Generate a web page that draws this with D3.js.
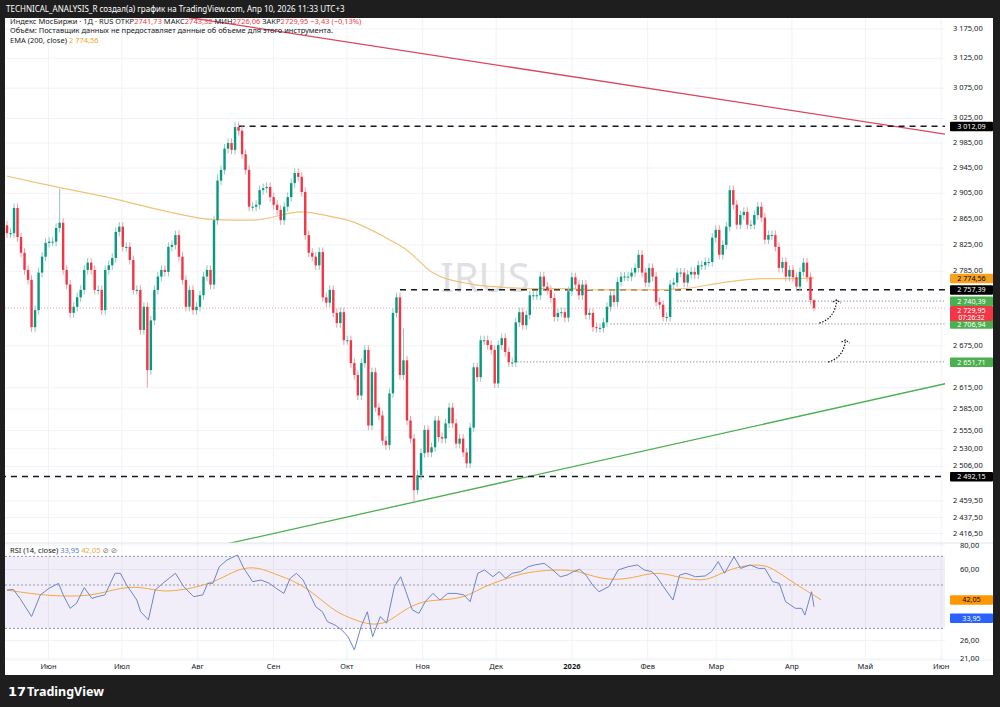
<!DOCTYPE html>
<html><head><meta charset="utf-8">
<script src="https://cdn.jsdelivr.net/npm/d3@7"></script>
<style>body{margin:0;background:#1e1e1e}svg{display:block;font-family:"Noto Sans","DejaVu Sans",sans-serif}</style>
</head><body><svg id="c" width="1000" height="707"></svg>
<script>
// ---------- DATA ----------
const closes = [
2843,2843,2882,2837,2813,2787,2772,2702,2727,2783,
2807,2828,2830,2830,2851,2859,2787,2765,2723,2732,
2746,2757,2787,2798,2787,2757,2757,2727,2787,2794,
2805,2845,2853,2822,2822,2802,2757,2757,2698,2732,
2640,2712,2757,2777,2787,2784,2822,2825,2840,2807,
2772,2732,2757,2727,2732,2749,2777,2787,2765,2863,
2925,2942,2976,2985,2974,3011,3005,2967,2942,2884,
2884,2887,2910,2913,2915,2899,2887,2879,2863,2884,
2899,2921,2937,2931,2907,2840,2813,2807,2794,2814,
2746,2738,2757,2723,2708,2724,2683,2683,2650,2633,
2604,2650,2669,2562,2637,2587,2576,2541,2535,2607,
2723,2746,2633,2654,2569,2544,2474,2494,2524,2556,
2525,2532,2569,2546,2544,2565,2587,2565,2537,2544,
2525,2510,2559,2644,2630,2683,2683,2676,2669,2621,
2676,2686,2666,2651,2651,2709,2724,2705,2720,2749,
2749,2749,2777,2762,2757,2745,2717,2723,2724,2716,
2755,2776,2765,2749,2765,2720,2723,2702,2701,2701,
2709,2732,2749,2739,2769,2777,2777,2777,2783,2790,
2810,2783,2768,2790,2777,2739,2735,2717,2717,2765,
2768,2783,2783,2768,2780,2784,2780,2794,2794,2799,
2799,2836,2848,2810,2825,2853,2910,2887,2856,2871,
2876,2856,2856,2871,2884,2867,2833,2840,2840,2822,
2790,2799,2777,2787,2776,2762,2784,2798,2776,2742,
2729.95];
const firstOpen = 2855;
const lastOHLC = {o:2741.73,h:2743.32,l:2726.0,c:2729.95};
const highOverrides = {15:2912, 65:3012.09, 113:2700, 60:2935};
const lowOverrides = {116:2458, 40:2615, 140:2640};

const emaIdx = [0,9,30,46,59,70,84,92,97,109,114,121,132,144,150,158,170,181,193,204,216,224,230];
const emaVal = [2932,2921,2897,2876,2864,2863,2876,2869,2863,2833,2817,2784,2766,2760,2759,2759,2757,2757,2759,2768,2774,2774,2774.56];

const rsiIdx = [0,1.8,3.7,7,9.5,12,14.7,16,18,19.8,22,24.2,25.7,27.9,30.8,32.3,34.1,37,38.1,40.3,42.2,44.4,46.2,48,50.4,53.2,55.8,57.2,58.7,60.5,62.7,65.7,67.5,70,72.4,74.8,76.7,78.9,80.7,82.5,84.4,86.2,88,89.9,91.3,93.5,95.4,97.2,99,100.9,102.7,104.2,106.4,108.2,110.4,112.2,113.7,115.5,117.4,119.2,121.4,123.4,125.6,128,130.2,132,134.2,136.1,138.5,140.3,142.1,144,146.4,148.6,150.4,153.1,155,157.7,159.6,161.4,163.2,165,166.9,168.7,171.5,174.2,177,179.7,181.6,183.8,185.2,187.1,189.8,191.7,193.5,196.2,199,200.8,202.7,204.5,207.2,209.1,211.8,214.2,216,218.2,220.1,221.9,224.7,226.5,227.4,229.3,230];
const rsiVal = [47.1,47.5,42.7,34.5,44.5,48.1,51.0,44.5,38.0,40.3,48.5,42.7,43.6,44.5,57.4,57.4,50.0,41.9,36.5,33.2,47.1,51.0,54.1,57.4,49.0,43.6,44.5,51.0,51.0,62.0,67.1,71.2,60.8,52.0,53.0,51.0,48.1,45.3,54.1,57.4,53.0,45.3,38.7,36.5,32.5,31.2,29.5,27.2,23.3,30.6,36.5,27.2,34.5,31.9,49.0,55.1,46.2,37.3,35.8,41.1,45.3,41.9,45.3,45.3,44.5,41.1,57.4,59.7,55.1,58.5,54.1,57.4,58.5,62.0,63.3,64.5,60.8,55.1,56.2,58.5,60.1,56.2,50.0,46.2,49.0,59.7,62.0,63.3,59.7,58.5,55.1,49.0,41.9,56.2,57.4,55.1,55.6,58.5,65.8,57.4,69.8,60.8,63.3,60.8,60.8,52.0,51.0,41.1,38.0,38.0,35.1,46.2,38.7,33.95];
const maIdx = [0,9.2,18.3,25.7,34.8,42.2,45.8,53.2,60.5,66.0,71.5,77,82.5,88,93.5,99,103.6,108.2,111.8,117.4,122.9,130.2,135.7,141.2,146.7,154,159.6,163.2,168.7,174.2,179.7,185.2,190.7,196.2,199.9,205.4,210.9,215.5,218.2,223.7,228.3,232];
const maVal = [47.1,44.5,43.6,44.5,50.0,47.1,46.2,48.1,53.0,60.8,62.0,56.2,52.0,44.5,36.5,33.2,31.2,31.9,35.8,41.1,41.9,42.7,49.0,53.0,57.4,59.7,59.7,58.5,54.1,53.0,55.1,58.5,55.1,53.0,53.0,59.7,63.3,63.3,60.8,52.0,46.2,42.05];

const priceTicks = [3175,3125,3075,3025,2985,2945,2905,2865,2825,2785,2675,2615,2585,2555,2530,2506,2459.5,2437.5,2416.5];
const rsiTicks = [80,60,26,21];
const months = [["2025-06-01","Июн"],["2025-07-01","Июл"],["2025-08-01","Авг"],["2025-09-01","Сен"],["2025-10-01","Окт"],["2025-11-01","Ноя"],["2025-12-01","Дек"],["2026-01-01","2026"],["2026-02-01","Фев"],["2026-03-01","Мар"],["2026-04-01","Апр"],["2026-05-01","Май"],["2026-06-01","Июн"]];
const dashedLevels = [[3012.09,66],[2757.39,112],[2492.15,-2]];
const dottedLevels = [[2740.39,191],[2706.94,172],[2651.71,144.5]];
const redTrend = [[52.6,3194],[284,2985]];
const greenTrend = [[63.5,2404],[269.5,2623]];
const priceLabels = [[3012.09,"#000","#fff"],[2774.56,"#f7a21b","#000"],[2757.39,"#000","#fff"],[2740.39,"#4caf50","#fff"],[2706.94,"#4caf50","#fff"],[2651.71,"#4caf50","#fff"],[2492.15,"#000","#fff"]];

// ---------- SCALES ----------
const L=5,R=945,T=18,MB=543,RT=543,RB=660;
const n=closes.length;
const x=d3.scaleLinear().domain([0,n-1]).range([7,814]);
const xt=d3.scaleUtc().domain([new Date("2025-05-15"),new Date("2026-04-10")]).range([7,814]);
const y=d3.scaleLog().domain([3175,2416.5]).range([29,533.6]);
const yr=d3.scaleLog().domain([50,70]).range([585,556.4]);
const fmt=v=>{const s=v.toFixed(2).replace(".",",");const [a,b]=s.split(",");return a.replace(/\B(?=(\d{3})+(?!\d))/g," ")+","+b;};

const svg=d3.select("#c");
svg.append("rect").attr("width",1000).attr("height",707).attr("fill","#1e1e1e");
svg.append("rect").attr("x",L).attr("y",T).attr("width",988).attr("height",657).attr("fill","#fff");
const defs=svg.append("defs");
defs.append("clipPath").attr("id","mc").append("rect").attr("x",L).attr("y",T).attr("width",R-L).attr("height",MB-T);
defs.append("clipPath").attr("id","rc").append("rect").attr("x",L).attr("y",RT).attr("width",R-L).attr("height",RB-RT);

const g=svg.append("g");
months.forEach(m=>{const xx=xt(new Date(m[0]));g.append("line").attr("x1",xx).attr("x2",xx).attr("y1",T).attr("y2",RB).attr("stroke","#f0f2f5");});
priceTicks.forEach(p=>g.append("line").attr("x1",L).attr("x2",R).attr("y1",y(p)).attr("y2",y(p)).attr("stroke","#f0f2f5"));
rsiTicks.forEach(p=>g.append("line").attr("x1",L).attr("x2",R).attr("y1",yr(p)).attr("y2",yr(p)).attr("stroke","#f0f2f5"));

const m=svg.append("g").attr("clip-path","url(#mc)");
m.append("text").attr("x",485).attr("y",292).attr("text-anchor","middle").attr("font-size",40).attr("fill","#d8d9dd").attr("opacity",0.8).text("IRUS");
m.append("line").attr("x1",L).attr("x2",R).attr("y1",y(2729.95)).attr("y2",y(2729.95)).attr("stroke","#f7a3ab").attr("stroke-dasharray","1,2");
const trend=(pts,c)=>{const s=d3.scaleLinear().domain([pts[0][0],pts[1][0]]).range([Math.log(pts[0][1]),Math.log(pts[1][1])]);
 const a=-5,b=300; m.append("line").attr("x1",x(a)).attr("y1",y(Math.exp(s(a)))).attr("x2",x(b)).attr("y2",y(Math.exp(s(b)))).attr("stroke",c).attr("stroke-width",1.3);};
trend(redTrend,"#d9475d"); trend(greenTrend,"#4caf50");
dashedLevels.forEach(d=>m.append("line").attr("x1",x(d[1])).attr("x2",R).attr("y1",y(d[0])).attr("y2",y(d[0])).attr("stroke","#131722").attr("stroke-width",1.5).attr("stroke-dasharray","6,5"));
dottedLevels.forEach(d=>m.append("line").attr("x1",x(d[1])).attr("x2",R).attr("y1",y(d[0])).attr("y2",y(d[0])).attr("stroke","#9aa0a6").attr("stroke-width",1.2).attr("stroke-dasharray","1.2,2"));
m.append("path").datum(emaIdx.map((d,i)=>[d,emaVal[i]])).attr("fill","none").attr("stroke","#f0c27a").attr("stroke-width",1.2)
 .attr("d",d3.line().x(d=>x(d[0])).y(d=>y(d[1])).curve(d3.curveMonotoneX));
const candles=closes.map((c,i)=>{let o=i===0?firstOpen:closes[i-1];if(i===n-1){return {i,...lastOHLC};}
 let h=Math.max(o,c)*1.0025,l=Math.min(o,c)*0.9975;if(highOverrides[i])h=Math.max(h,highOverrides[i]);if(lowOverrides[i])l=Math.min(l,lowOverrides[i]);return {i,o,h,l,c};});
const cg=m.selectAll(".cd").data(candles).join("g");
cg.append("line").attr("x1",d=>x(d.i)).attr("x2",d=>x(d.i)).attr("y1",d=>y(d.h)).attr("y2",d=>y(d.l)).attr("stroke",d=>d.c>=d.o?"#8cc9bd":"#f29aa3").attr("stroke-width",1);
cg.append("rect").attr("x",d=>x(d.i)-1.2).attr("width",2.4).attr("y",d=>y(Math.max(d.o,d.c))).attr("height",d=>Math.max(1,Math.abs(y(d.o)-y(d.c)))).attr("fill",d=>d.c>=d.o?"#089981":"#f23645");
const arr=(x1,y1,x2,y2)=>{m.append("path").attr("d",`M${x1},${y1} Q${x2-2},${y1-4} ${x2},${y2}`).attr("fill","none").attr("stroke","#131722").attr("stroke-width",1.2).attr("stroke-dasharray","1.5,1.5");
 m.append("path").attr("d",`M${x2-4},${y2+2} L${x2},${y2} L${x2+4},${y2+3}`).attr("fill","none").attr("stroke","#131722").attr("stroke-width",1.2).attr("stroke-dasharray","1.5,1.5");};
arr(x(231.5),323,x(236.5),300); arr(x(234),362,x(239),340);

svg.append("line").attr("x1",L).attr("x2",993).attr("y1",MB).attr("y2",MB).attr("stroke","#e0e3eb");
svg.append("line").attr("x1",L).attr("x2",993).attr("y1",RB).attr("y2",RB).attr("stroke","#f0f2f5");

const rg=svg.append("g").attr("clip-path","url(#rc)");
rg.append("rect").attr("x",L).attr("width",R-L).attr("y",yr(70)).attr("height",yr(30)-yr(70)).attr("fill","#7e57c2").attr("opacity",0.1);
[70,50,30].forEach(v=>rg.append("line").attr("x1",L).attr("x2",R).attr("y1",yr(v)).attr("y2",yr(v)).attr("stroke","#9598a1").attr("stroke-dasharray","2,2"));
rg.append("path").datum(maIdx.map((d,i)=>[d,maVal[i]])).attr("fill","none").attr("stroke","#f5a742").attr("stroke-width",1).attr("d",d3.line().x(d=>x(d[0])).y(d=>yr(d[1])).curve(d3.curveBasis));
rg.append("path").datum(rsiIdx.map((d,i)=>[d,rsiVal[i]])).attr("fill","none").attr("stroke","#6d86c8").attr("stroke-width",1).attr("d",d3.line().x(d=>x(d[0])).y(d=>yr(d[1])));

const at=svg.append("g").attr("font-size",7.5).attr("fill","#131722");
priceTicks.forEach(p=>at.append("text").attr("x",953).attr("y",y(p)+2).text(fmt(p)));
rsiTicks.forEach(p=>at.append("text").attr("x",960).attr("y",yr(p)+2.5).text(fmt(p)));
months.forEach(mm=>at.append("text").attr("x",xt(new Date(mm[0]))).attr("y",669).attr("text-anchor","middle").attr("font-weight",mm[1]==="2026"?"bold":"normal").text(mm[1]));
const box=(v,yy,bg,fg,txt,h,top,ty)=>{svg.append("rect").attr("x",950).attr("y",top!=null?top:yy-4.5).attr("width",43).attr("height",h||9.5).attr("fill",bg).attr("rx",1);
 svg.append("text").attr("x",971.5).attr("y",ty!=null?ty:yy+2.7).attr("text-anchor","middle").attr("font-size",7.2).attr("fill",fg).text(txt||fmt(v));};
priceLabels.forEach(p=>box(p[0],y(p[0]),p[1],p[2]));
const rTop=y(2740.39)+5;
box(2729.95,0,"#f23645","#fff",null,15,rTop,rTop+6.5);
svg.append("text").attr("x",971.5).attr("y",rTop+13.5).attr("text-anchor","middle").attr("font-size",6.5).attr("fill","#fff").text("07:26:32");
box(42.05,yr(42.05),"#ff9800","#000");
box(33.95,yr(33.95),"#2962ff","#fff");

const lg=svg.append("g").attr("font-size",7.5).attr("fill","#131722");
const t1=lg.append("text").attr("x",10).attr("y",24);
[["Индекс МосБиржи · 1Д · RUS  ОТКР","#131722"],["2741,73","#f23645"],["  МАКС","#131722"],["2743,32","#f23645"],["  МИН","#131722"],["2726,06","#f23645"],["  ЗАКР","#131722"],["2729,95  −3,43 (−0,13%)","#f23645"]].forEach(s=>t1.append("tspan").attr("fill",s[1]).text(s[0]));
lg.append("text").attr("x",10).attr("y",33).text("Объём: Поставщик данных не предоставляет данные об объеме для этого инструмента.");
const t3=lg.append("text").attr("x",10).attr("y",43);t3.append("tspan").text("EMA (200, close)  ");t3.append("tspan").attr("fill","#f7a21b").text("2 774,56");
const t4=lg.append("text").attr("x",10).attr("y",553);t4.append("tspan").text("RSI (14, close)  ");t4.append("tspan").attr("fill","#5b7bd5").text("33,95  ");t4.append("tspan").attr("fill","#f5a742").text("42,05");t4.append("tspan").attr("fill","#777").text("  ⊘ ⊘");
svg.append("text").attr("x",6).attr("y",12).attr("font-size",8).attr("fill","#fff").text("TECHNICAL_ANALYSIS_R создал(а) график на TradingView.com, Апр 10, 2026 11:33 UTC+3");
svg.append("text").attr("x",8).attr("y",696).attr("font-size",13).attr("font-weight","bold").attr("fill","#fff").text("𝟭𝟳");
svg.append("text").attr("x",27).attr("y",696).attr("font-size",12.5).attr("font-weight","bold").attr("fill","#fff").text("TradingView");
</script></body></html>
